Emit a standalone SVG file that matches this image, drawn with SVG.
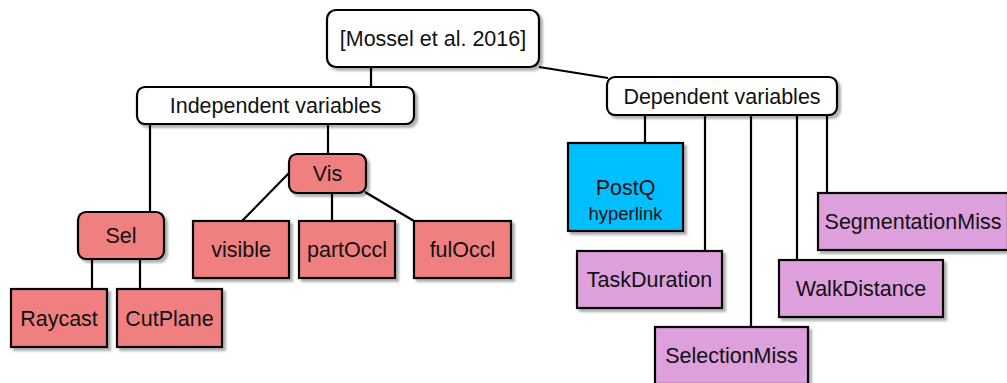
<svg xmlns="http://www.w3.org/2000/svg" width="1007" height="383" viewBox="0 0 1007 383">
<defs>
<filter id="sh" x="-10%" y="-10%" width="130%" height="140%">
<feDropShadow dx="3" dy="3" stdDeviation="1.2" flood-color="#000" flood-opacity="0.3"/>
</filter>
</defs>
<style>
.b{stroke:#000;stroke-width:2.2;filter:url(#sh)}
.w{fill:#fff}.r{fill:#F08080}.c{fill:#00BFFF}.p{fill:#DDA0DD}
text{font-family:"Liberation Sans",Arial,sans-serif;font-size:21.5px;fill:#111;text-anchor:middle}
.s{font-size:18.5px}
.e{stroke:#000;stroke-width:2.2;fill:none}
</style>
<g id="connectors" class="e">
<line x1="371" y1="67" x2="371" y2="87"/>
<line x1="539" y1="67" x2="608" y2="78"/>
<line x1="150" y1="124" x2="150" y2="212"/>
<line x1="328" y1="124" x2="328" y2="154"/>
<line x1="92" y1="259" x2="92" y2="289"/>
<line x1="140" y1="259" x2="140" y2="289"/>
<line x1="289" y1="173" x2="242" y2="221"/>
<line x1="332" y1="193" x2="332" y2="221"/>
<line x1="365" y1="192" x2="414" y2="221"/>
<line x1="645" y1="115" x2="645" y2="143"/>
<line x1="705" y1="115" x2="705" y2="251"/>
<line x1="751" y1="115" x2="751" y2="327"/>
<line x1="797" y1="115" x2="797" y2="260"/>
<line x1="827" y1="115" x2="827" y2="193"/>
</g>
<g id="root"><rect class="b w" x="327" y="10" width="212" height="57" rx="9"/><text x="433" y="46">[Mossel et al. 2016]</text></g>
<g id="indep"><rect class="b w" x="137" y="87" width="277" height="37" rx="8"/><text x="275.5" y="113">Independent variables</text></g>
<g id="dep"><rect class="b w" x="607" y="77" width="230" height="38" rx="8"/><text x="722" y="104">Dependent variables</text></g>
<g id="sel"><rect class="b r" x="78" y="212" width="86" height="47" rx="8"/><text x="121" y="243">Sel</text></g>
<g id="vis"><rect class="b r" x="289" y="154" width="77" height="39" rx="8"/><text x="327.5" y="181">Vis</text></g>
<g id="raycast"><rect class="b r" x="11" y="289" width="96" height="58"/><text x="59" y="326">Raycast</text></g>
<g id="cutplane"><rect class="b r" x="117" y="289" width="105" height="58"/><text x="169.5" y="326">CutPlane</text></g>
<g id="visible"><rect class="b r" x="193" y="221" width="96" height="57"/><text x="241" y="257">visible</text></g>
<g id="partoccl"><rect class="b r" x="299" y="221" width="96" height="57"/><text x="347" y="257">partOccl</text></g>
<g id="fuloccl"><rect class="b r" x="414" y="221" width="97" height="57"/><text x="462.5" y="257">fulOccl</text></g>
<g id="postq"><rect class="b c" x="568" y="143" width="115" height="88"/><text x="625.5" y="195">PostQ</text><text class="s" x="625.5" y="220">hyperlink</text></g>
<g id="taskduration"><rect class="b p" x="577" y="251" width="145" height="57"/><text x="649.5" y="287">TaskDuration</text></g>
<g id="selectionmiss"><rect class="b p" x="655" y="327" width="153" height="57"/><text x="731.5" y="363">SelectionMiss</text></g>
<g id="walkdistance"><rect class="b p" x="779" y="260" width="164" height="57"/><text x="861" y="296">WalkDistance</text></g>
<g id="segmentationmiss"><rect class="b p" x="818" y="193" width="190" height="57"/><text x="913" y="229">SegmentationMiss</text></g>
</svg>
